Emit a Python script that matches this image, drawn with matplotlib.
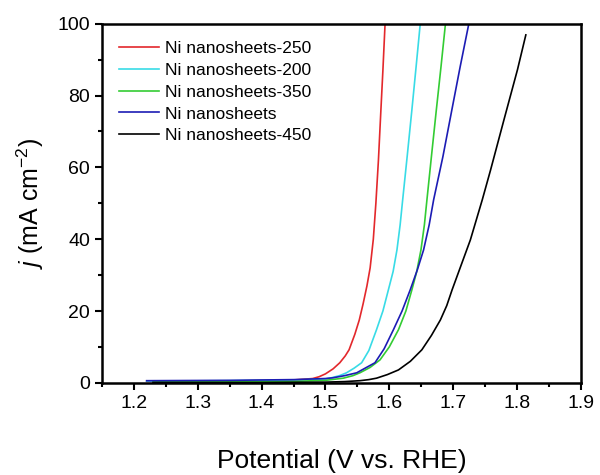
import matplotlib
matplotlib.use("Agg")
import matplotlib.pyplot as plt
from matplotlib.ticker import MultipleLocator

plt.rcParams['font.family'] = ['Liberation Sans', 'DejaVu Sans']
plt.rcParams['mathtext.fontset'] = 'custom'
plt.rcParams['mathtext.rm'] = 'Liberation Sans'
plt.rcParams['mathtext.it'] = 'Liberation Sans:italic'

# LSV curves: potential (V vs. RHE) and j (mA cm-2)
labels = ["Ni nanosheets-250", "Ni nanosheets-200", "Ni nanosheets-350",
          "Ni nanosheets", "Ni nanosheets-450"]
colors = ["#e3282c", "#38dbe6", "#33cc33", "#1c1cb4", "black"]

v_250 = [1.22, 1.35, 1.45, 1.48, 1.49, 1.50, 1.512, 1.5225, 1.531, 1.537, 1.546, 1.553,
         1.559, 1.565, 1.570, 1.575, 1.579, 1.583, 1.5866, 1.590, 1.5934]
j_250 = [0.4, 0.5, 0.8, 1.2, 1.7, 2.5, 3.9, 5.6, 7.5, 9.2, 13.5, 17.5,
         22, 27, 32, 40, 50, 62, 75, 87, 100]

v_200 = [1.22, 1.35, 1.45, 1.50, 1.509, 1.522, 1.533, 1.545, 1.5567, 1.568, 1.580, 1.590,
         1.5986, 1.606, 1.612, 1.617, 1.621, 1.628, 1.6354, 1.642, 1.6485]
j_200 = [0.5, 0.6, 0.8, 1.1, 1.4, 2.0, 2.8, 4.1, 5.6, 9.0, 14.8, 20,
         25.9, 31, 37, 44, 51, 63, 76, 88, 100]

v_350 = [1.23, 1.35, 1.45, 1.50, 1.528, 1.543, 1.554, 1.570, 1.5855, 1.600, 1.6144, 1.626,
         1.6354, 1.643, 1.6496, 1.655, 1.659, 1.666, 1.6737, 1.681, 1.688]
j_350 = [0.2, 0.3, 0.4, 0.7, 1.3, 2.0, 2.8, 4.3, 6.4, 10, 14.8, 20,
         25.9, 31, 37, 44, 51, 63, 76, 88, 100]

v_ni = [1.22, 1.35, 1.45, 1.50, 1.5115, 1.530, 1.549, 1.5776, 1.592, 1.6065, 1.620, 1.6328,
        1.644, 1.6537, 1.6625, 1.6695, 1.684, 1.698, 1.711, 1.7246]
j_ni = [0.6, 0.7, 0.9, 1.2, 1.4, 2.0, 2.8, 5.6, 9.5, 14.8, 20, 25.9,
        31.5, 37, 44, 51, 63, 76, 88, 100]

v_450 = [1.23, 1.40, 1.50, 1.530, 1.554, 1.568, 1.580, 1.597, 1.6144, 1.633, 1.651, 1.666,
         1.680, 1.690, 1.6984, 1.713, 1.727, 1.7457, 1.7587, 1.7797, 1.8008, 1.8139]
j_450 = [0.1, 0.1, 0.2, 0.35, 0.6, 0.9, 1.3, 2.3, 3.6, 6.0, 9.2, 13.2,
         17.5, 21.5, 25.9, 33, 39.8, 51, 59.3, 73.3, 87.2, 96.9]

potentials = [v_250, v_200, v_350, v_ni, v_450]
currents = [j_250, j_200, j_350, j_ni, j_450]

fig = plt.figure(figsize=(6, 4.75), dpi=100)
ax = fig.add_axes([0.17, 0.194, 0.798, 0.756])

for v, j, c, lab in zip(potentials, currents, colors, labels):
    ax.plot(v, j, color=c, lw=1.2, label=lab)

ax.set_xlim(1.15, 1.9)
ax.set_ylim(0, 100)
ax.xaxis.set_major_locator(MultipleLocator(0.1))
ax.xaxis.set_minor_locator(MultipleLocator(0.05))
ax.yaxis.set_major_locator(MultipleLocator(20))
ax.yaxis.set_minor_locator(MultipleLocator(10))
ax.tick_params(which='both', direction='out', width=1.5, labelsize=14)
ax.tick_params(which='major', length=5)
ax.tick_params(which='minor', length=3)
for s in ax.spines.values():
    s.set_linewidth(1.8)

ax.set_xlabel("Potential (V vs. RHE)", fontsize=19, labelpad=27)
ax.set_ylabel(r"$j$ (mA cm$^{-2}$)", fontsize=18, labelpad=8)

ax.legend(loc='upper left', frameon=False, fontsize=12.5, handlelength=2.3,
          handletextpad=0.35, labelspacing=0.38, borderaxespad=0.6)

fig.savefig("out.png", dpi=100)
